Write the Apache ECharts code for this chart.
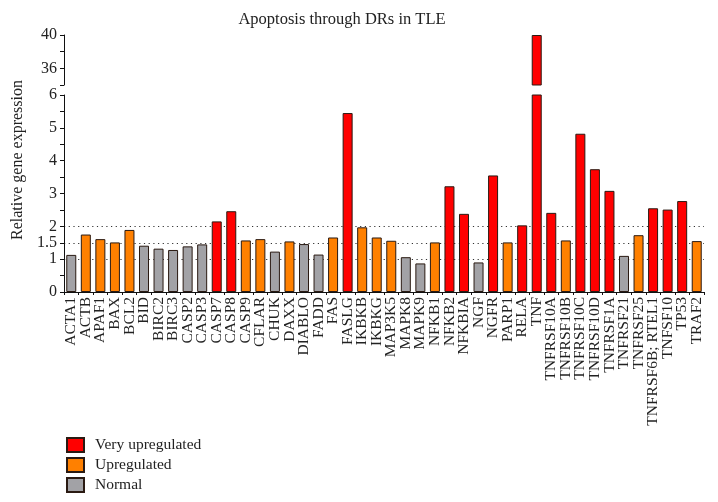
<!DOCTYPE html>
<html><head><meta charset="utf-8">
<script src="https://cdn.jsdelivr.net/npm/echarts@6/dist/echarts.min.js"></script>
<style>html,body{margin:0;padding:0;background:#fff}#c{width:718px;height:502px}</style>
</head><body><div id="c"></div>
<script>
const categories = ['ACTA1','ACTB','APAF1','BAX','BCL2','BID','BIRC2','BIRC3','CASP2','CASP3',
  'CASP7','CASP8','CASP9','CFLAR','CHUK','DAXX','DIABLO','FADD','FAS','FASLG',
  'IKBKB','IKBKG','MAP3K5','MAPK8','MAPK9','NFKB1','NFKB2','NFKBIA','NGF','NGFR',
  'PARP1','RELA','TNF','TNFRSF10A','TNFRSF10B','TNFRSF10C','TNFRSF10D','TNFRSF1A','TNFRSF21','TNFRSF25',
  'TNFRSF6B; RTEL1','TNFSF10','TP53','TRAF2'];
const values = [1.13,1.75,1.61,1.51,1.89,1.41,1.32,1.28,1.39,1.45,
  2.15,2.46,1.57,1.61,1.23,1.54,1.46,1.14,1.66,5.45,
  1.97,1.66,1.56,1.06,0.87,1.51,3.22,2.38,0.90,3.55,
  1.51,2.03,40,2.41,1.57,4.82,3.74,3.08,1.10,1.73,
  2.55,2.51,2.77,1.55];
const levels = ['N','U','U','U','U','N','N','N','N','N',
  'V','V','U','U','N','U','N','N','U','V',
  'U','U','U','N','N','U','V','V','N','V',
  'U','V','V','V','U','V','V','V','N','U',
  'V','V','V','U'];
const groups = [['V','Very upregulated','#ff0000'],['U','Upregulated','#ff8000'],['N','Normal','#a2a2a6']];
const lowerTicks = [0,1,1.5,2,3,4,5,6];
const upperTicks = [36,40];
const guideLines = [1,1.5,2];

const serif = 'Liberation Serif';
const chart = echarts.init(document.getElementById('c'));
const splitColors = [];
for (let v = 0; v <= 6.0001; v += 0.5) splitColors.push(guideLines.some(g => Math.abs(g - v) < 1e-6) ? '#333' : 'rgba(0,0,0,0)');

const lowerSeries = groups.map(([k, name, color]) => ({
  type: 'bar', name, xAxisIndex: 1, yAxisIndex: 1,
  data: values.map((v, i) => levels[i] === k ? v : '-'),
  barWidth: 10, barGap: '-100%', clip: true,
  itemStyle: {color, borderColor: '#2a1a12', borderWidth: 1},
  emphasis: {disabled: true}
}));
const upperSeries = {
  type: 'bar', name: 'Very upregulated', xAxisIndex: 0, yAxisIndex: 0,
  data: values.map((v, i) => v >= 34 ? v : '-'),
  barWidth: 10, clip: true,
  itemStyle: {color: '#ff0000', borderColor: '#2a1a12', borderWidth: 1},
  emphasis: {disabled: true}
};

chart.setOption({
  animation: false,
  title: {text: 'Apoptosis through DRs in TLE', left: 337, top: 6, textAlign: 'center',
    textStyle: {fontFamily: serif, fontSize: 16.5, fontWeight: 'normal', color: '#222'}},
  legend: {orient: 'vertical', left: 66, top: 436, padding: 0, itemWidth: 17, itemHeight: 14, itemGap: 2,
    icon: 'rect', height: 66,
    data: groups.map(g => g[1]), selectedMode: false,
    textStyle: {fontFamily: serif, fontSize: 15.5, color: '#222', lineHeight: 18, padding: [0, 0, 0, 6]}},
  graphic: [{type: 'text', x: 18, y: 160, rotation: Math.PI / 2,
    style: {text: 'Relative gene expression', fontFamily: serif, fontSize: 16, fill: '#222',
      textAlign: 'center', textVerticalAlign: 'middle'}}],
  grid: [
    {left: 64, right: 14, top: 35, height: 50},
    {left: 64, right: 14, top: 95, height: 197}
  ],
  xAxis: [
    {type: 'category', gridIndex: 0, data: categories, show: false},
    {type: 'category', gridIndex: 1, data: categories,
      axisLine: {lineStyle: {color: '#111', width: 1}},
      axisTick: {show: true, length: 3, lineStyle: {color: '#111'}},
      axisLabel: {rotate: 90, interval: 0, margin: 5, fontFamily: serif, fontSize: 15.5, color: '#222'}}
  ],
  yAxis: [
    {type: 'value', gridIndex: 0, min: 34, max: 40, interval: 2,
      axisLine: {show: true, lineStyle: {color: '#111'}},
      axisTick: {show: true, length: 4, lineStyle: {color: '#111'}},
      splitLine: {show: false},
      axisLabel: {margin: 7, fontFamily: serif, fontSize: 16, color: '#222',
        formatter: v => upperTicks.includes(v) ? String(v) : ''}},
    {type: 'value', gridIndex: 1, min: 0, max: 6, interval: 0.5,
      axisLine: {show: true, lineStyle: {color: '#111'}},
      axisTick: {show: true, length: 4, lineStyle: {color: '#111'}},
      splitLine: {show: true, lineStyle: {color: splitColors, type: [1.2, 3.5], width: 1.2}},
      axisLabel: {margin: 7, fontFamily: serif, fontSize: 16, color: '#222',
        formatter: v => lowerTicks.some(t => Math.abs(t - v) < 1e-6) ? String(v) : ''}}
  ],
  series: [...lowerSeries, upperSeries]
});
</script></body></html>
